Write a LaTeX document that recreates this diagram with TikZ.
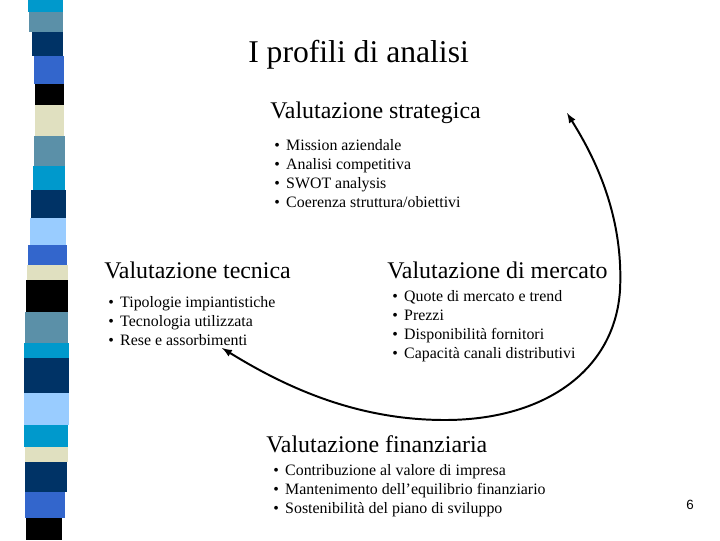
\documentclass[tikz,border=0pt]{standalone}
\usepackage{fontspec}
\setmainfont{Liberation Serif}
\newfontfamily\pagefont{Liberation Sans}
\definecolor{stripecyan}{HTML}{0099CC}
\definecolor{stripesteel}{HTML}{5B90A8}
\definecolor{stripenavy}{HTML}{003366}
\definecolor{striperoyal}{HTML}{3366CC}
\definecolor{stripebeige}{HTML}{E0E0C0}
\definecolor{stripelight}{HTML}{99CCFF}
\tikzset{
  heading/.style={anchor=base west, inner sep=0pt, font=\fontsize{17}{20}\selectfont},
  % ancorato alla linea di base dell'ultima riga
  bullets/.style={anchor=base west, inner sep=0pt, align=left, font=\fontsize{11.3}{13.5}\selectfont},
}
\newcommand{\itm}[1]{\makebox[8.5pt][l]{\textbullet}#1}
\begin{document}
\begin{tikzpicture}[x=0.025cm, y=-0.025cm]
  \useasboundingbox (0,0) rectangle (720,540);
  % striscia colorata a sinistra
  \foreach \ya/\yb/\xl/\xr/\col in {0/12/28/63/stripecyan, 12/32/29/63/stripesteel,
      32/56/32/63/stripenavy, 56/84/34/64/striperoyal, 84/105/35/64/black,
      105/136/35/64/stripebeige, 136/166/34/65/stripesteel, 166/190/33/65/stripecyan,
      190/218/31/66/stripenavy, 218/245/30/66/stripelight, 245/265/28/67/striperoyal,
      265/280/27/68/stripebeige, 280/312/26/68/black, 312/343/25/68/stripesteel,
      343/358/24/69/stripecyan, 358/393/24/69/stripenavy, 393/425/24/69/stripelight,
      425/447/24/68/stripecyan, 447/462/25/68/stripebeige, 462/492/25/67/stripenavy,
      492/518/25/65/striperoyal, 518/540/26/62/black}
    \fill[\col] (\xl,\ya) rectangle (\xr,\yb);

  \node[anchor=base west, inner sep=0pt, font=\fontsize{22.5}{26}\selectfont] (title) at (248,62) {I profili di analisi};

  \node[heading] (strat) at (270,118) {Valutazione strategica};
  \node[bullets] (stratlist) at (274,207) {\itm{Mission aziendale}\\ \itm{Analisi competitiva}\\
    \itm{SWOT analysis}\\ \itm{Coerenza struttura/obiettivi}};

  \node[heading] (tecn) at (104,278) {Valutazione tecnica};
  \node[bullets] (tecnlist) at (108,345) {\itm{Tipologie impiantistiche}\\ \itm{Tecnologia utilizzata}\\
    \itm{Rese e assorbimenti}};

  \node[heading] (merc) at (387,278) {Valutazione di mercato};
  \node[bullets] (merclist) at (392,358) {\itm{Quote di mercato e trend}\\ \itm{Prezzi}\\
    \itm{Disponibilità fornitori}\\ \itm{Capacità canali distributivi}};

  \node[heading] (fin) at (266,452) {Valutazione finanziaria};
  \node[bullets] (finlist) at (273,513) {\itm{Contribuzione al valore di impresa}\\
    \itm{Mantenimento dell’equilibrio finanziario}\\ \itm{Sostenibilità del piano di sviluppo}};

  \node[anchor=base, inner sep=0pt, font=\pagefont\fontsize{9.5}{11}\selectfont] (pagenum) at (690,509) {6};

  % freccia curva
  \coordinate (arrowstart) at (222,348);
  \coordinate (arrowend) at (567,113);
  \draw[line width=1.4pt, latex-latex] (arrowstart) .. controls (290,390) and (360,420) .. (445,420)
    .. controls (545,420) and (615,370) .. (620,290) .. controls (624,210) and (590,150) .. (arrowend);
\end{tikzpicture}
\end{document}
